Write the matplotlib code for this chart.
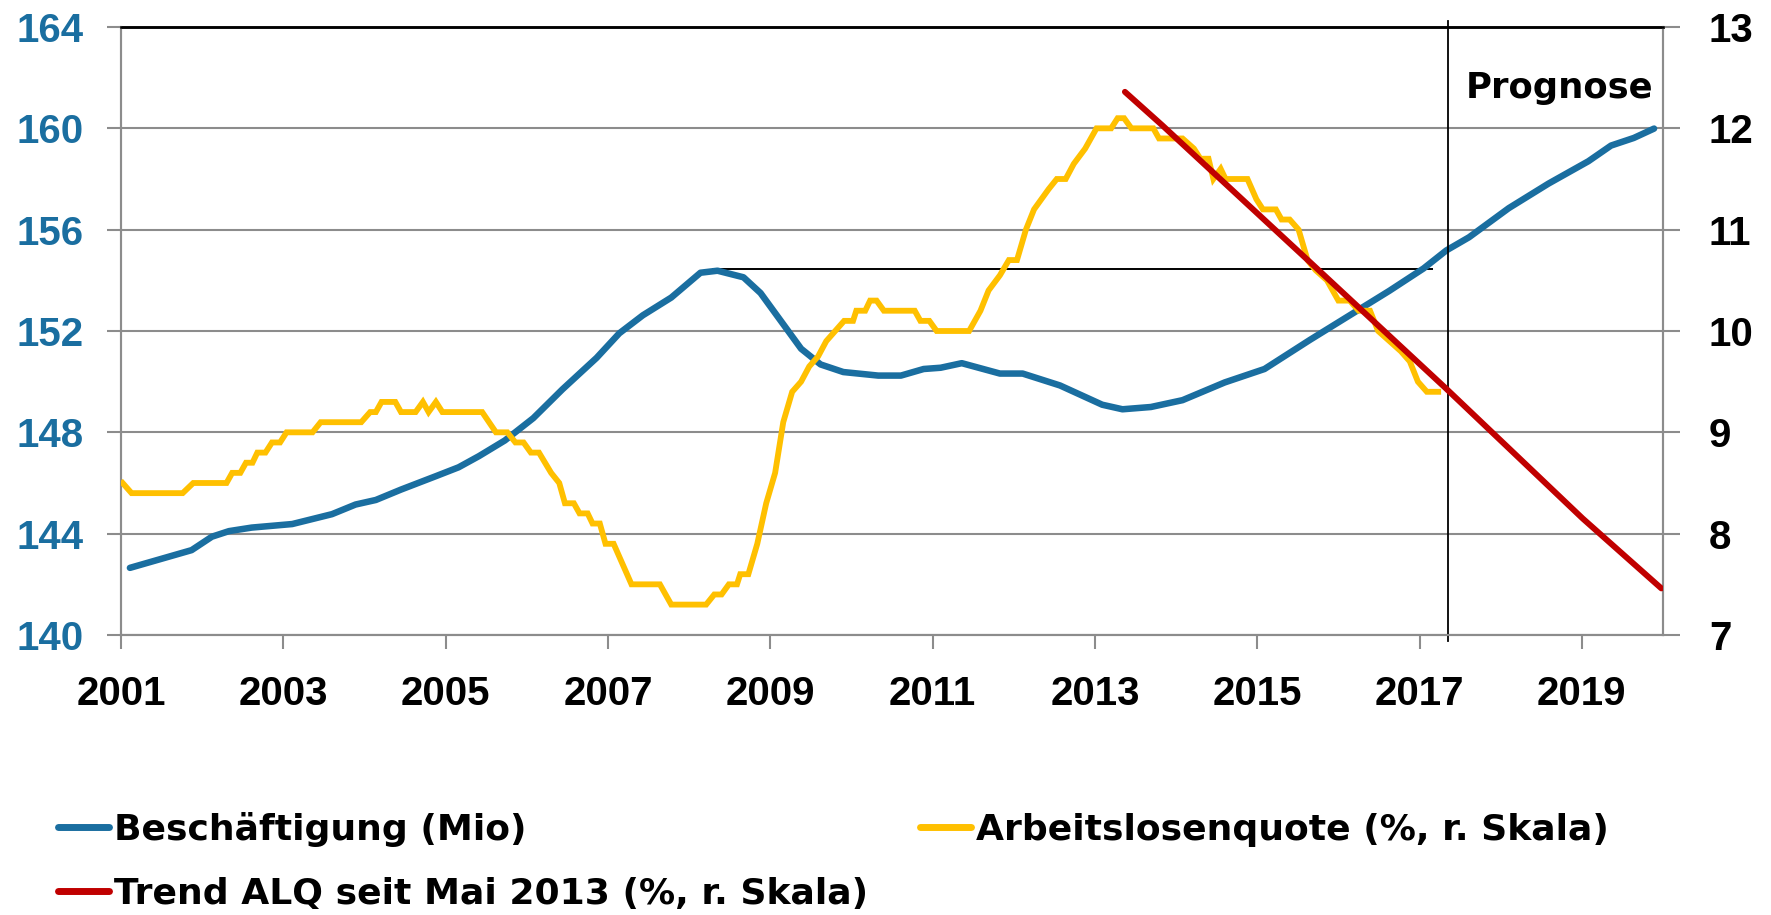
import matplotlib
matplotlib.use("Agg")
import matplotlib.pyplot as plt
from matplotlib.lines import Line2D

# ---------------- data ----------------
emp_x = [2001.11, 2001.87, 2002.12, 2002.33, 2002.61, 2003.11, 2003.60, 2003.89, 2004.14,
         2004.45, 2004.88, 2005.16, 2005.41, 2005.73, 2006.08, 2006.44, 2006.86, 2007.14,
         2007.43, 2007.78, 2008.14, 2008.35, 2008.67, 2008.88, 2009.38, 2009.62, 2009.90,
         2010.33, 2010.61, 2010.89, 2011.10, 2011.36, 2011.83, 2012.11, 2012.57, 2013.09,
         2013.34, 2013.69, 2014.08, 2014.60, 2015.09, 2015.65, 2016.14, 2016.63, 2017.05,
         2017.33, 2017.61, 2018.10, 2018.59, 2019.08, 2019.36, 2019.64, 2019.89]
emp_y = [142.65, 143.35, 143.88, 144.10, 144.24, 144.38, 144.77, 145.15, 145.33,
         145.74, 146.27, 146.62, 147.06, 147.68, 148.56, 149.70, 150.94, 151.91,
         152.62, 153.32, 154.30, 154.38, 154.12, 153.50, 151.30, 150.68, 150.38,
         150.24, 150.24, 150.50, 150.55, 150.73, 150.32, 150.32, 149.85, 149.09,
         148.91, 149.00, 149.27, 149.97, 150.50, 151.65, 152.62, 153.59, 154.47,
         155.18, 155.70, 156.85, 157.82, 158.70, 159.32, 159.62, 159.99]

alq_x = [2001.02, 2001.13, 2001.76, 2001.89, 2002.30, 2002.37, 2002.47, 2002.54, 2002.62,
         2002.68, 2002.78, 2002.86, 2002.96, 2003.04, 2003.36, 2003.46, 2003.96, 2004.07,
         2004.14, 2004.21, 2004.38, 2004.45, 2004.63, 2004.72, 2004.79, 2004.88, 2004.96,
         2005.45, 2005.62, 2005.76, 2005.86, 2005.96, 2006.05, 2006.15, 2006.30, 2006.40,
         2006.47, 2006.58, 2006.65, 2006.75, 2006.81, 2006.90, 2006.97, 2007.07, 2007.18,
         2007.29, 2007.64, 2007.78, 2008.21, 2008.31, 2008.40, 2008.49, 2008.59, 2008.63,
         2008.73, 2008.84, 2008.95, 2009.06, 2009.16, 2009.27, 2009.38, 2009.48, 2009.59,
         2009.69, 2009.80, 2009.91, 2010.02, 2010.06, 2010.17, 2010.23, 2010.31, 2010.40,
         2010.78, 2010.85, 2010.96, 2011.05, 2011.45, 2011.59, 2011.69, 2011.83, 2011.94,
         2012.04, 2012.15, 2012.25, 2012.43, 2012.53, 2012.64, 2012.74, 2012.88, 2013.02,
         2013.20, 2013.28, 2013.36, 2013.45, 2013.72, 2013.79, 2014.08, 2014.22, 2014.30,
         2014.40, 2014.46, 2014.55, 2014.61, 2014.88, 2014.99, 2015.07, 2015.23, 2015.30,
         2015.40, 2015.51, 2015.62, 2015.72, 2015.86, 2016.00, 2016.14, 2016.25, 2016.39,
         2016.49, 2016.63, 2016.77, 2016.88, 2016.98, 2017.09, 2017.23]
alq_y = [8.5, 8.4, 8.4, 8.5, 8.5, 8.6, 8.6, 8.7, 8.7,
         8.8, 8.8, 8.9, 8.9, 9.0, 9.0, 9.1, 9.1, 9.2,
         9.2, 9.3, 9.3, 9.2, 9.2, 9.3, 9.2, 9.3, 9.2,
         9.2, 9.0, 9.0, 8.9, 8.9, 8.8, 8.8, 8.6, 8.5,
         8.3, 8.3, 8.2, 8.2, 8.1, 8.1, 7.9, 7.9, 7.7,
         7.5, 7.5, 7.3, 7.3, 7.4, 7.4, 7.5, 7.5, 7.6,
         7.6, 7.9, 8.3, 8.6, 9.1, 9.4, 9.5, 9.65, 9.75,
         9.9, 10.0, 10.1, 10.1, 10.2, 10.2, 10.3, 10.3, 10.2,
         10.2, 10.1, 10.1, 10.0, 10.0, 10.2, 10.4, 10.55, 10.7,
         10.7, 11.0, 11.2, 11.4, 11.5, 11.5, 11.65, 11.8, 12.0,
         12.0, 12.1, 12.1, 12.0, 12.0, 11.9, 11.9, 11.8, 11.7,
         11.7, 11.5, 11.6, 11.5, 11.5, 11.3, 11.2, 11.2, 11.1,
         11.1, 11.0, 10.7, 10.6, 10.5, 10.3, 10.3, 10.2, 10.2,
         10.0, 9.9, 9.8, 9.7, 9.5, 9.4, 9.4]

trend_x = [2013.37, 2013.83, 2015.65, 2017.33, 2019.01, 2019.98]
trend_y = [12.36, 12.03, 10.68, 9.43, 8.15, 7.46]

peak_level = 154.44
peak_span = [2008.28, 2017.16]
forecast_start = 2017.35

year_ticks = [2001, 2003, 2005, 2007, 2009, 2011, 2013, 2015, 2017, 2019]
left_ticks = [140, 144, 148, 152, 156, 160, 164]
right_ticks = [7, 8, 9, 10, 11, 12, 13]

labels = ["Beschäftigung (Mio)", "Arbeitslosenquote (%, r. Skala)",
          "Trend ALQ seit Mai 2013 (%, r. Skala)"]

# ---------------- style ----------------
BLUE = "#1A6EA0"
YELLOW = "#FFC000"
RED = "#C00000"
GREY = "#8C8C8C"
TICKFONT = ["Liberation Sans", "DejaVu Sans"]
TEXTFONT = ["DejaVu Sans"]
FS = 29
LFS = 26

plt.rcParams['font.family'] = TICKFONT
plt.rcParams['font.weight'] = 'bold'

fig = plt.figure(figsize=(17.71, 9.15), dpi=100)
ax = fig.add_axes([121/1771, 1-635/915, (1663-121)/1771, (635-27)/915])
ax2 = ax.twinx()

ax.set_xlim(2001, 2020)
ax.set_ylim(140, 164)
ax2.set_ylim(7, 13)

ax.set_yticks(left_ticks)
ax.set_xticks(year_ticks)
ax2.set_yticks(right_ticks)

ax.grid(axis='y', color=GREY, lw=1.5)
ax.set_axisbelow(True)

for a in (ax, ax2):
    for s in ('left', 'right', 'bottom'):
        a.spines[s].set_color(GREY)
        a.spines[s].set_linewidth(1.5)
    a.spines['top'].set_color('black')
    a.spines['top'].set_linewidth(1.8)

ax.tick_params(axis='y', colors=BLUE, labelsize=FS, length=10, width=1.5, pad=17)
ax.tick_params(axis='y', which='both', color=GREY)
ax.tick_params(axis='x', labelsize=FS, length=10, width=1.5, pad=19, color=GREY,
               labelcolor='black')
ax2.tick_params(axis='y', labelsize=FS, length=12, width=1.5, pad=21, color=GREY,
                labelcolor='black')
for lab in ax.get_yticklabels() + ax.get_xticklabels() + ax2.get_yticklabels():
    lab.set_fontweight('bold')

# lines
ax.plot(emp_x, emp_y, color=BLUE, lw=4.7, solid_capstyle='round', zorder=3)
ax.hlines(peak_level, peak_span[0], peak_span[1], color='black', lw=1.4, zorder=2)
ax2.plot(alq_x, alq_y, color=YELLOW, lw=4.2, solid_joinstyle='miter', zorder=3)
ax2.plot(trend_x, trend_y, color=RED, lw=4.3, solid_capstyle='round', zorder=4)
ax2.plot([forecast_start, forecast_start], [-0.01, 1.01], color='black', lw=1.3,
         transform=ax2.get_xaxis_transform(), clip_on=False, zorder=2)

ax2.text(0.994, 0.883, "Prognose", transform=ax2.transAxes, ha='right', va='baseline',
         fontsize=25.5, fontweight='bold', color='black', family=TEXTFONT)

handles = [Line2D([], [], color=BLUE, lw=5, solid_capstyle='round'),
           Line2D([], [], color=RED, lw=5, solid_capstyle='round'),
           Line2D([], [], color=YELLOW, lw=5, solid_capstyle='round')]
leg = fig.legend(handles, [labels[0], labels[2], labels[1]], ncol=2,
                 loc='upper left', bbox_to_anchor=(58/1771, 1-812/915),
                 frameon=False, prop={'family': TEXTFONT, 'size': LFS, 'weight': 'bold'},
                 handlelength=1.4, handletextpad=0.15,
                 columnspacing=1.45, labelspacing=0.82, borderpad=0, borderaxespad=0)

fig.savefig("out.png", dpi=100)
